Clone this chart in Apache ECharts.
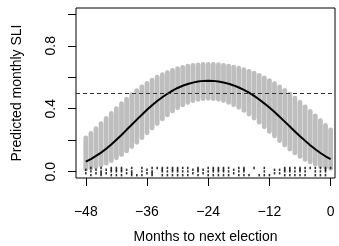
<!DOCTYPE html>
<html>
<head>
<meta charset="utf-8">
<script src="https://cdn.jsdelivr.net/npm/echarts@6/dist/echarts.min.js"></script>
<style>
  html, body { margin: 0; padding: 0; background: #fff; }
  #chart { width: 339px; height: 246px; }
</style>
</head>
<body>
<div id="chart"></div>
<script>
// months before the next election
const months = [-48, -47, -46, -45, -44, -43, -42, -41, -40, -39, -38, -37, -36, -35, -34, -33, -32,
  -31, -30, -29, -28, -27, -26, -25, -24, -23, -22, -21, -20, -19, -18, -17, -16, -15, -14, -13,
  -12, -11, -10, -9, -8, -7, -6, -5, -4, -3, -2, -1, 0]

// predicted SLI and its interval
const predicted = [0.064, 0.080, 0.100, 0.121, 0.146, 0.173, 0.203, 0.233, 0.266, 0.298, 0.331,
  0.362, 0.393, 0.422, 0.449, 0.473, 0.495, 0.515, 0.532, 0.546, 0.557, 0.566, 0.573, 0.577, 0.578,
  0.577, 0.573, 0.567, 0.559, 0.548, 0.535, 0.520, 0.502, 0.482, 0.459, 0.434, 0.408, 0.379, 0.349,
  0.318, 0.287, 0.256, 0.225, 0.196, 0.168, 0.143, 0.119, 0.098, 0.080]
const upper = [0.214, 0.243, 0.274, 0.306, 0.338, 0.370, 0.401, 0.432, 0.461, 0.489, 0.515, 0.539,
  0.561, 0.582, 0.600, 0.616, 0.630, 0.643, 0.654, 0.662, 0.670, 0.675, 0.679, 0.681, 0.682,
  0.682, 0.680, 0.676, 0.671, 0.665, 0.658, 0.648, 0.638, 0.626, 0.612, 0.596, 0.579, 0.560, 0.539,
  0.517, 0.493, 0.467, 0.440, 0.412, 0.383, 0.354, 0.324, 0.294, 0.265]
const lower = [0.017, 0.023, 0.031, 0.042, 0.054, 0.070, 0.088, 0.109, 0.132, 0.159, 0.187, 0.216,
  0.247, 0.277, 0.306, 0.335, 0.361, 0.385, 0.406, 0.424, 0.439, 0.451, 0.459, 0.464, 0.466,
  0.464, 0.460, 0.452, 0.440, 0.426, 0.409, 0.389, 0.366, 0.341, 0.314, 0.285, 0.256, 0.227, 0.198,
  0.169, 0.143, 0.119, 0.097, 0.078, 0.062, 0.048, 0.037, 0.028, 0.021]

const threshold = 0.5

// jittered observations near zero, one list per month
const rug = [
  [0.012, -0.010], [0.024, 0.002, -0.022], [0.012, -0.010], [0.024, 0.002, -0.010, -0.022],
  [0.012, -0.010], [0.024, 0.012, 0.002, -0.022], [0.024, 0.012, 0.002, -0.022], [0.024, 0.012, 0.002, -0.022],
  [0.012, -0.010], [0.024, 0.002, -0.010, -0.022], [-0.022], [0.024, 0.002, -0.022],
  [0.012, -0.010], [0.024, 0.002, -0.010, -0.022], [0.024], [0.024, 0.012, 0.002, -0.022],
  [0.024, 0.002, -0.022], [0.024, 0.012, 0.002, -0.022], [0.024, 0.012, 0.002, -0.022], [0.024, 0.002, -0.022],
  [0.024, 0.002, -0.022], [0.012, -0.010], [0.024, 0.012, 0.002, -0.022], [0.012, -0.010],
  [0.024, 0.002, -0.022],
  [0.024, 0.012, 0.002, -0.022], [0.024, 0.012, 0.002, -0.022], [0.024, 0.012, 0.002, -0.022], [0.024, 0.002, -0.022],
  [0.012, -0.010], [0.024, 0.002, -0.022], [0.024, 0.012, 0.002, -0.022], [-0.022],
  [0.024], [-0.022], [0.024, 0.002, -0.022], [-0.022],
  [0.012, -0.010], [0.012, -0.010], [0.024, 0.012, 0.002, -0.022], [0.024, 0.012, 0.002, -0.022],
  [0.024, 0.002, -0.022], [0.024, 0.012, 0.002, -0.022], [0.024, 0.002, -0.022], [0.024],
  [0.024, 0.002, -0.022], [0.024, 0.002, -0.022], [0.024, 0.012, 0.002, -0.022], [0.024]
]

const yTicks = [0, 0.2, 0.4, 0.6, 0.8, 1.0]
const yLabels = [0, 0.4, 0.8]
const xTicks = [-48, -36, -24, -12, 0]

const chart = echarts.init(document.getElementById('chart'), null, { renderer: 'canvas' })

const bands = months.map((m, i) => [m, lower[i], upper[i]])
const line = months.map((m, i) => [m, predicted[i]])
const rugPoints = []
months.forEach((m, i) => {
  rug[i].forEach(y => rugPoints.push([m, y]))
})

const font = 'Liberation Sans, Arial, Helvetica, sans-serif'

chart.setOption({
  animation: false,
  grid: {
    left: 76,
    right: 4,
    top: 8,
    bottom: 68,
    outerBoundsMode: 'none',
    show: true,
    borderColor: '#000',
    borderWidth: 1,
    backgroundColor: 'transparent'
  },
  xAxis: {
    type: 'value',
    min: -49.92,
    max: 0.86,
    name: 'Months to next election',
    nameLocation: 'middle',
    nameGap: 52,
    nameMoveOverlap: false,
    nameTextStyle: { color: '#000', fontSize: 14, fontFamily: font },
    axisLine: { show: false, onZero: false },
    splitLine: { show: false },
    axisTick: {
      show: true,
      length: 8,
      customValues: xTicks,
      lineStyle: { color: '#000', width: 1 }
    },
    axisLabel: {
      customValues: xTicks,
      margin: 27,
      color: '#000',
      fontSize: 14,
      fontFamily: font,
      formatter: v => String(v).replace('-', '\u2212')
    }
  },
  yAxis: {
    type: 'value',
    min: -0.04,
    max: 1.04,
    name: 'Predicted monthly SLI',
    nameLocation: 'middle',
    nameGap: 52,
    nameMoveOverlap: false,
    nameTextStyle: { color: '#000', fontSize: 14, fontFamily: font },
    axisLine: { show: false, onZero: false },
    splitLine: { show: false },
    axisTick: {
      show: true,
      length: 8,
      customValues: yTicks,
      lineStyle: { color: '#000', width: 1 }
    },
    axisLabel: {
      customValues: yLabels,
      rotate: 90,
      margin: 18,
      color: '#000',
      fontSize: 14,
      fontFamily: font,
      formatter: v => v.toFixed(1)
    }
  },
  series: [
    {
      type: 'custom',
      data: bands,
      silent: true,
      renderItem: (params, api) => {
        const top = api.coord([api.value(0), api.value(2)])
        const bot = api.coord([api.value(0), api.value(1)])
        return {
          type: 'line',
          shape: { x1: top[0], y1: top[1], x2: bot[0], y2: bot[1] },
          style: { stroke: '#bebebe', lineWidth: 4.8, lineCap: 'round' }
        }
      },
      z: 1
    },
    {
      type: 'line',
      data: line,
      showSymbol: false,
      symbol: 'none',
      lineStyle: { color: '#000', width: 2 },
      z: 3,
      markLine: {
        silent: true,
        symbol: 'none',
        label: { show: false },
        lineStyle: { color: '#333', width: 1, type: [4, 3] },
        data: [{ yAxis: threshold }]
      }
    },
    {
      type: 'scatter',
      data: rugPoints,
      symbol: 'rect',
      symbolSize: [1.6, 2.4],
      itemStyle: { color: '#000' },
      silent: true,
      z: 4
    }
  ]
})
</script>
</body>
</html>
